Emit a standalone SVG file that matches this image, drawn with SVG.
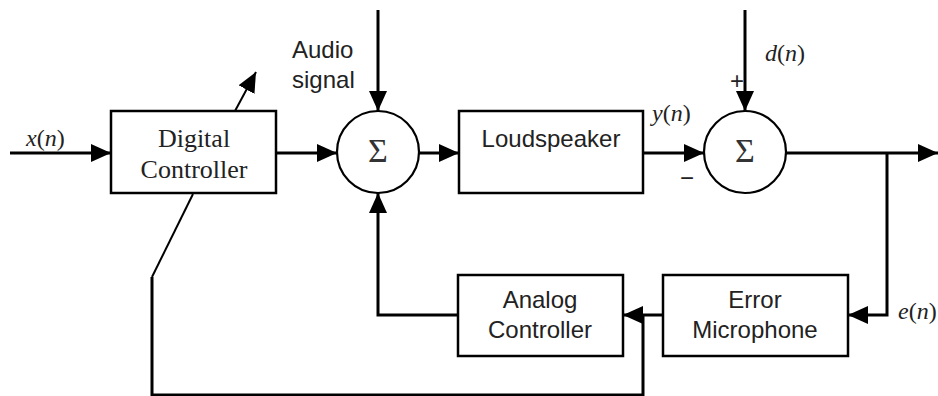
<svg xmlns="http://www.w3.org/2000/svg" width="938" height="396" viewBox="0 0 938 396">
<style>
.box{fill:#fff;stroke:#000;stroke-width:2.5}
.sum{fill:#fff;stroke:#000;stroke-width:2.2}
.ln{fill:none;stroke:#000;stroke-width:3}
.thin{fill:none;stroke:#000;stroke-width:2}
.sans{font-family:"Liberation Sans",Arial,sans-serif;font-size:24px;fill:#222}
.serif{font-family:"Liberation Serif","Times New Roman",serif;font-size:26px;fill:#222}
.lab{font-family:"Liberation Serif","Times New Roman",serif;font-size:24px;fill:#222}
.sig{font-family:"Liberation Serif","Times New Roman",serif;font-size:34px;fill:#333}
</style>
<defs>
<marker id="ah" markerUnits="userSpaceOnUse" markerWidth="20" markerHeight="20" refX="20" refY="10" orient="auto" viewBox="0 0 20 20">
<path d="M0,1 L20,10 L0,19 z" fill="#000"/>
</marker>
</defs>
<g id="connectors">
<line class="ln" x1="10" y1="153" x2="111" y2="153" marker-end="url(#ah)"/>
<line class="thin" x1="235" y1="111" x2="256" y2="72" marker-end="url(#ah)"/>
<line class="ln" x1="276" y1="153" x2="337" y2="153" marker-end="url(#ah)"/>
<line class="ln" x1="378" y1="10" x2="378" y2="111" marker-end="url(#ah)"/>
<line class="ln" x1="419" y1="153" x2="459" y2="153" marker-end="url(#ah)"/>
<line class="ln" x1="643" y1="153" x2="704" y2="153" marker-end="url(#ah)"/>
<line class="ln" x1="745" y1="10" x2="745" y2="111" marker-end="url(#ah)"/>
<line class="ln" x1="786" y1="153" x2="938" y2="153" marker-end="url(#ah)"/>
<polyline class="ln" points="887,153 887,315 848,315" marker-end="url(#ah)"/>
<line class="ln" x1="663" y1="315" x2="623" y2="315" marker-end="url(#ah)"/>
<polyline class="ln" points="458,315 378,315 378,193" marker-end="url(#ah)"/>
<polyline class="ln" points="643,315 643,395 152,395 152,277"/>
<line class="thin" x1="152" y1="277" x2="193" y2="194"/>
</g>
<g id="digital-controller">
<rect class="box" x="111" y="111" width="165" height="82"/>
<text class="serif" x="194" y="147" text-anchor="middle">Digital</text>
<text class="serif" x="194" y="178" text-anchor="middle">Controller</text>
</g>
<g id="sum1">
<circle class="sum" cx="378" cy="152" r="41"/>
<text class="sig" x="378" y="162" text-anchor="middle">Σ</text>
</g>
<g id="loudspeaker">
<rect class="box" x="459" y="111" width="184" height="82"/>
<text class="sans" x="551" y="147" text-anchor="middle">Loudspeaker</text>
</g>
<g id="sum2">
<circle class="sum" cx="745" cy="152" r="41"/>
<text class="sig" x="745" y="162" text-anchor="middle">Σ</text>
</g>
<g id="analog-controller">
<rect class="box" x="458" y="275" width="165" height="81"/>
<text class="sans" x="540" y="308" text-anchor="middle">Analog</text>
<text class="sans" x="540" y="338" text-anchor="middle">Controller</text>
</g>
<g id="error-microphone">
<rect class="box" x="663" y="275" width="185" height="81"/>
<text class="sans" x="755" y="308" text-anchor="middle">Error</text>
<text class="sans" x="755" y="338" text-anchor="middle">Microphone</text>
</g>
<g id="labels">
<text class="sans" x="292" y="58">Audio</text>
<text class="sans" x="292" y="88">signal</text>
<text class="lab" x="26" y="146"><tspan font-style="italic">x</tspan>(<tspan font-style="italic">n</tspan>)</text>
<text class="lab" x="652" y="121"><tspan font-style="italic">y</tspan>(<tspan font-style="italic">n</tspan>)</text>
<text class="lab" x="765" y="61"><tspan font-style="italic">d</tspan>(<tspan font-style="italic">n</tspan>)</text>
<text class="lab" x="898" y="319"><tspan font-style="italic">e</tspan>(<tspan font-style="italic">n</tspan>)</text>
<text class="sans" x="737" y="89" text-anchor="middle" font-size="20">+</text>
<text class="sans" x="687" y="186" text-anchor="middle" font-size="22">−</text>
</g>
</svg>
